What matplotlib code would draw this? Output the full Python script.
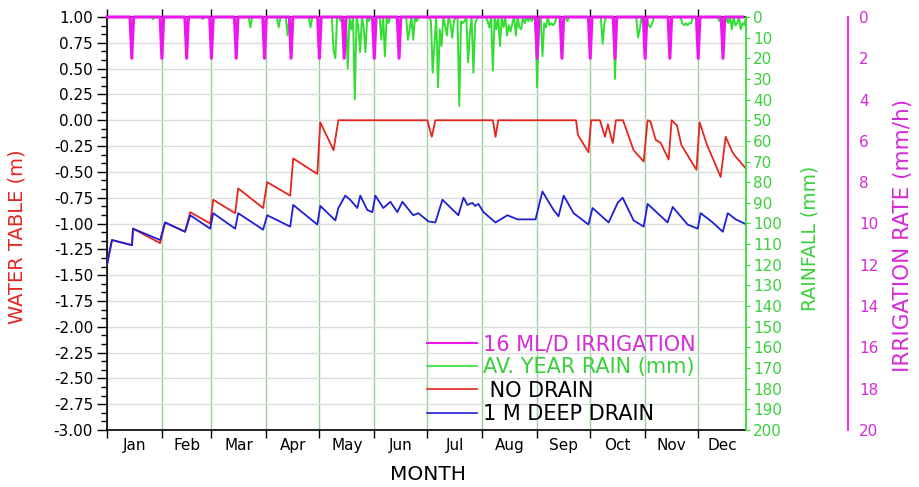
import matplotlib
matplotlib.use("Agg")
import matplotlib.pyplot as plt
import numpy as np
from matplotlib.ticker import FixedLocator, NullFormatter, FixedFormatter, AutoMinorLocator, FormatStrFormatter
from matplotlib.lines import Line2D

plt.rcParams['font.family'] = ['DejaVu Sans']
plt.rcParams['axes.unicode_minus'] = False

# ---------------- data ----------------
months = ['Jan', 'Feb', 'Mar', 'Apr', 'May', 'Jun', 'Jul', 'Aug', 'Sep', 'Oct', 'Nov', 'Dec']
month_starts = [0, 31, 59, 90, 120, 151, 181, 212, 243, 273, 304, 334]
x_end = 361

# water table, no drain (day of year, m)
red_days = [0, 2.8, 14.1, 14.7, 30, 32.8, 44.1, 47, 58.3, 60, 72.4, 74.1, 88.2, 90.5,
            103.5, 105.2, 118.8, 120.5, 128, 130.7, 140, 160, 181, 183.5, 185.5, 218,
            219.5, 221, 265, 266, 272, 273.5, 278.5, 281.3, 283, 284.7, 285.8, 287.5,
            291.5, 297.5, 303.2, 305.4, 307, 310, 312.8, 317.3, 319, 322, 324.5, 333,
            334.8, 339, 346.7, 349.5, 353.4, 355, 362.6]
red_wt = [-1.40, -1.16, -1.21, -1.05, -1.19, -0.99, -1.08, -0.89, -1.00, -0.77, -0.90,
          -0.66, -0.85, -0.60, -0.73, -0.37, -0.52, -0.02, -0.29, 0.00, 0.00, 0.00, 0.00,
          -0.16, 0.00, 0.00, -0.16, 0.00, 0.00, -0.14, -0.31, 0.00, 0.00, -0.16, -0.04,
          -0.16, -0.22, 0.00, 0.00, -0.29, -0.40, 0.00, -0.01, -0.19, -0.22, -0.38, 0.00,
          -0.05, -0.24, -0.48, -0.02, -0.24, -0.55, -0.16, -0.31, -0.35, -0.50]

# water table, 1 m deep drain (day of year, m)
blue_days = [0, 2.8, 14.1, 14.7, 30, 32.8, 44.1, 47, 58.3, 60, 72.4, 74.1, 88.2, 90.5,
             103.5, 105.2, 118.8, 120.5, 129, 130.7, 134.6, 137.4, 141.4, 143.1, 147.1,
             149.9, 151.6, 156.1, 160.1, 164, 166.9, 173, 175.9, 181.6, 185.5, 189.5,
             198.5, 201.4, 203.6, 206.4, 208, 209.8, 212.7, 219.5, 226.2, 231.9, 242.1,
             246, 252.3, 255.1, 258, 263.6, 272, 274.3, 283.4, 288.5, 291.3, 297.5, 303.2,
             305.4, 316.7, 319.6, 328, 333.7, 335.4, 342.2, 347.9, 350.7, 355.2, 362.6]
blue_wt = [-1.40, -1.16, -1.21, -1.05, -1.16, -0.99, -1.08, -0.92, -1.05, -0.90, -1.05,
           -0.90, -1.06, -0.92, -1.03, -0.82, -1.01, -0.83, -0.97, -0.85, -0.73, -0.77,
           -0.85, -0.73, -0.87, -0.89, -0.73, -0.85, -0.79, -0.89, -0.79, -0.92, -0.90,
           -0.98, -0.99, -0.77, -0.92, -0.75, -0.82, -0.80, -0.83, -0.81, -0.89, -0.99,
           -0.92, -0.96, -0.96, -0.69, -0.87, -0.93, -0.73, -0.90, -1.01, -0.85, -0.99,
           -0.80, -0.75, -0.97, -1.03, -0.81, -0.99, -0.84, -1.01, -1.05, -0.90, -0.99,
           -1.08, -0.90, -0.96, -1.02]

# average-year daily rainfall (day of year, mm)
rain_days = [26, 54, 81, 97, 102, 115,
             128, 129, 132, 136, 138, 140, 142, 143, 145, 146, 148,
             155, 157, 159, 170, 171, 173, 175,
             183, 184, 185, 187, 188, 189, 191, 192, 194, 195, 196, 199, 200, 201, 202,
             204, 205, 207, 208, 209,
             215, 216, 218, 220, 222, 224, 226, 227, 228, 229, 231, 233, 234, 236, 238, 240,
             243, 244, 246, 247, 248, 250, 251, 252, 253, 260,
             280, 281, 287, 300, 301, 306, 307, 308, 325, 326, 327, 328, 329, 330,
             346, 348, 349, 351, 353, 355, 356, 358, 359, 360]
rain_mm = [1, 1, 5, 5, 9, 5,
           16, 20, 2, 25, 6, 40, 5, 17, 5, 17, 2,
           11, 19, 3, 11, 6, 11, 2,
           2, 27, 13, 34, 6, 14, 4, 9, 3, 10, 2, 43, 2, 3, 2,
           22, 8, 27, 3, 1,
           2, 5, 26, 6, 14, 5, 9, 4, 7, 3, 9, 5, 6, 3, 2, 2,
           34, 3, 19, 3, 5, 4, 3, 4, 3, 2,
           13, 3, 30, 10, 6, 4, 5, 3, 3, 4, 3, 4, 3, 3,
           2, 3, 4, 3, 6, 4, 3, 6, 3, 4]

# 16 ML/d irrigation events (day of year) and rate (mm/h)
irr_days = [14, 31, 45, 59, 73, 89, 104, 120, 134, 151, 165,
            243, 257, 273, 287, 304, 318, 334, 348]
irr_rate = 2.0

# ---------------- styling ----------------
RED = '#e52620'
BLUE = '#1f1fd6'
GREEN = '#33dd33'
GREEN_TXT = '#3ccf3c'
MAG = '#ee15ee'
MAG_TXT = '#d62ad6'

fig = plt.figure(figsize=(9.19, 4.87), dpi=100)
ax = fig.add_axes([107 / 919, 57 / 487, 639 / 919, 413 / 487])

ax.set_xlim(0, x_end)
ax.set_ylim(-3, 1)
ax.set_axisbelow(True)

# water-table lines
ax.plot(red_days, red_wt, color=RED, lw=1.3, zorder=3)
ax.plot(blue_days, blue_wt, color=BLUE, lw=1.3, zorder=3)

# y axis (left)
ax.yaxis.set_major_locator(FixedLocator(np.arange(-3.0, 1.001, 0.25)))
ax.yaxis.set_major_formatter(FormatStrFormatter('%.2f'))
ax.yaxis.set_minor_locator(AutoMinorLocator(3))
ax.tick_params(axis='y', which='major', direction='out', length=7, width=1, labelsize=11, pad=3)
ax.tick_params(axis='y', which='minor', direction='out', length=4, width=1)
ax.grid(axis='y', which='major', color='#dcdcdc', lw=1)

# x axis: month boundaries as major ticks, month names at mid-month
month_mids = [(s + e) / 2 for s, e in zip(month_starts, month_starts[1:] + [x_end])]
ax.xaxis.set_major_locator(FixedLocator(month_starts))
ax.xaxis.set_major_formatter(NullFormatter())
ax.xaxis.set_minor_locator(FixedLocator(month_mids))
ax.xaxis.set_minor_formatter(FixedFormatter(months))
ax.tick_params(axis='x', which='major', direction='out', length=6, width=1, top=True)
ax.tick_params(axis='x', which='minor', length=0, labelsize=11, pad=6)
ax.grid(axis='x', which='major', color='#9ccf9c', lw=1)

for s in ['left', 'bottom', 'top']:
    ax.spines[s].set_color('black')
    ax.spines[s].set_linewidth(1.2)
ax.spines['right'].set_visible(False)

ax.set_ylabel('WATER TABLE (m)', color=RED, fontsize=14)
ax.yaxis.set_label_coords((17 - 107) / 639, 0.467)
ax.yaxis.label.set_verticalalignment('center')
ax.set_xlabel('MONTH', fontsize=14.5)
ax.xaxis.set_label_coords((428 - 107) / 639, (430 - 474) / 413)
ax.xaxis.label.set_verticalalignment('center')

# rainfall axis (right, inverted)
ax2 = ax.twinx()
ax2.set_xlim(0, x_end)
ax2.set_ylim(200, 0)
rain = np.zeros(x_end + 2)
rain[rain_days] = rain_mm
ax2.plot(np.arange(x_end + 2), rain, color=GREEN, lw=1.4)
ax2.yaxis.set_major_locator(FixedLocator(np.arange(0, 201, 10)))
ax2.tick_params(axis='y', colors=GREEN, labelcolor=GREEN_TXT, direction='out', length=3,
                labelsize=11, pad=2)
for s in ['left', 'top', 'bottom']:
    ax2.spines[s].set_visible(False)
ax2.spines['right'].set_color(GREEN)
ax2.spines['right'].set_linewidth(1.3)
ax2.set_ylabel('RAINFALL (mm)', color=GREEN_TXT, fontsize=13.5)
ax2.yaxis.set_label_coords((810 - 107) / 639, 0.464)
ax2.yaxis.label.set_verticalalignment('center')

# irrigation axis (far right, inverted)
ax3 = ax.twinx()
ax3.set_xlim(0, x_end)
ax3.set_ylim(20, 0)
irr = np.zeros(x_end + 2)
irr[irr_days] = irr_rate
ax3.plot(np.arange(x_end - 1), irr[:x_end - 1], color=MAG, lw=2.2, clip_on=False)
ax3.spines['right'].set_position(('outward', 102 * 0.72))
for s in ['left', 'top', 'bottom']:
    ax3.spines[s].set_visible(False)
ax3.spines['right'].set_color(MAG)
ax3.spines['right'].set_linewidth(1.3)
ax3.yaxis.set_major_locator(FixedLocator(np.arange(0, 21, 2)))
ax3.tick_params(axis='y', length=0, labelcolor=MAG_TXT, labelsize=11, pad=8)
ax3.set_ylabel('IRRIGATION RATE (mm/h)', color=MAG_TXT, fontsize=15.5)
ax3.yaxis.set_label_coords((903 - 107) / 639, 0.472)
ax3.yaxis.label.set_verticalalignment('center')

# legend
handles = [Line2D([], [], color=MAG, lw=1.5), Line2D([], [], color=GREEN, lw=1.2),
           Line2D([], [], color=RED, lw=1.2), Line2D([], [], color=BLUE, lw=1.2)]
labels = ['16 ML/D IRRIGATION', 'AV. YEAR RAIN (mm)', ' NO DRAIN', '1 M DEEP DRAIN']
leg = ax3.legend(handles, labels, loc='upper left', bbox_to_anchor=(427 / 919, 1 - 334 / 487),
                 bbox_transform=fig.transFigure, frameon=False, fontsize=15,
                 handlelength=2.4, handletextpad=0.3, labelspacing=0.16,
                 borderpad=0, borderaxespad=0)
for t, c in zip(leg.get_texts(), [MAG_TXT, GREEN_TXT, 'black', 'black']):
    t.set_color(c)

fig.savefig('out.png', dpi=100)
